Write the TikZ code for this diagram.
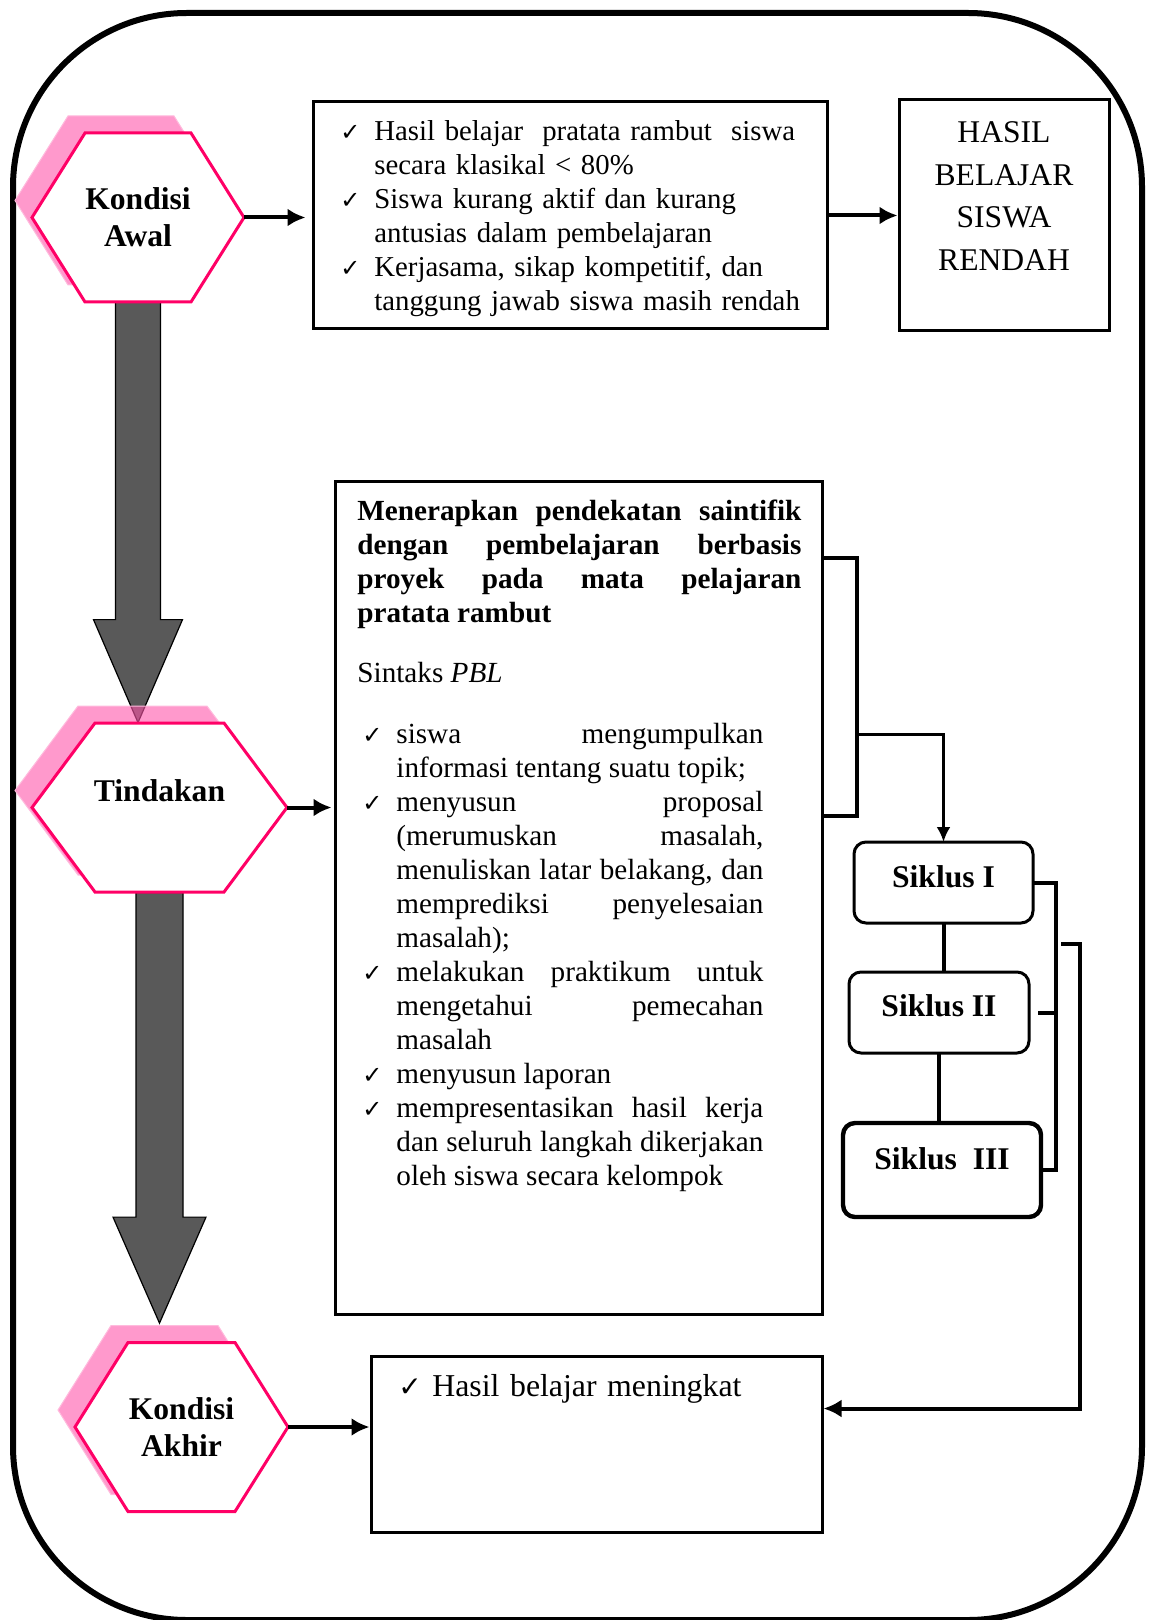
\documentclass[tikz,border=0pt]{standalone}
\usepackage{fontspec}
\setmainfont{Liberation Serif}
\newfontfamily\simbol{DejaVu Sans}
\usetikzlibrary{positioning}
\usetikzlibrary{calc}
\usetikzlibrary{arrows.meta}

\definecolor{pinkgaris}{HTML}{FF0066}
\definecolor{pinkbayang}{HTML}{FF55AA}
\definecolor{abugelap}{HTML}{595959}

\pgfdeclarelayer{background}
\pgfsetlayers{background,main}

\setlength{\parindent}{0pt}
\tolerance=10000
\hbadness=10000
\hyphenpenalty=10000

\newcommand{\cek}{\noindent\llap{\makebox[17pt][l]{{\simbol\fontsize{12}{12}\selectfont ✓}}}}
\newcommand{\cekbesar}{\noindent\llap{\makebox[17pt][l]{{\simbol\fontsize{14}{14}\selectfont ✓}}}}

% hexagon with pink shadow: name, centre, half width, slant, options, text
\newcommand{\hexa}[6]{%
  \path[hexbayang] ($(#2)+({-#3-17},-17)$) -- ++(#4,-84.5) -- ++({2*#3-2*#4},0) -- ++(#4,84.5) -- ++(-#4,84.5) -- ++({-2*#3+2*#4},0) -- cycle;
  \path[hexgaris] ($(#2)+(-#3,0)$) -- ++(#4,-84.5) -- ++({2*#3-2*#4},0) -- ++(#4,84.5) -- ++(-#4,84.5) -- ++({-2*#3+2*#4},0) -- cycle;
  \node[hexteks, minimum width={#3*1pt}, #5] (#1) at (#2) {#6};
}

% gray block arrow: from, tip, shaft half, head half, head length
\newcommand{\blok}[5]{%
  \draw[blokpanah] ($(#1)+(-#3,0)$) -- ($(#2)+(-#3,-#5)$) -- ($(#2)+(-#4,-#5)$) -- (#2) -- ($(#2)+(#4,-#5)$) -- ($(#2)+(#3,-#5)$) -- ($(#1)+(#3,0)$) -- cycle;
}

\begin{document}
\begin{tikzpicture}[x=0.5pt, y=-0.5pt,
    hexteks/.style={inner sep=0pt, minimum height=84.5pt, align=center, font=\bfseries\fontsize{15.8}{18.5}\selectfont},
    hexgaris/.style={draw=pinkgaris, line width=1.5pt, fill=white},
    hexbayang/.style={fill=pinkbayang, fill opacity=0.6, draw=pinkbayang!40, line width=0.5pt},
    kotak/.style={draw, line width=1.5pt, inner sep=0pt},
    teks/.style={inner sep=0pt, font=\fontsize{14.6}{17}\selectfont},
    siklus/.style={draw, line width=1.5pt, rounded corners=6pt, inner sep=0pt, outer sep=0pt, font=\bfseries\fontsize{15.8}{18}\selectfont},
    garis/.style={line width=2pt},
    panah/.style={line width=2pt, -{Latex[length=9pt,width=9pt]}},
    panahkecil/.style={line width=1.5pt, -{Latex[length=7.5pt,width=7pt]}},
    blokpanah/.style={fill=abugelap, draw=black, line width=0.6pt}]

    \useasboundingbox (0,0) rectangle (1152,1620);
    \draw[line width=3pt, rounded corners=87pt] (13,13) rectangle (1142,1620);

    % hexagons
    \hexa{awal}{138,217.5}{106}{53}{}{Kondisi\\Awal}
    \hexa{tindakan}{159.5,807.5}{127.5}{63}{text depth=17pt}{Tindakan}
    \hexa{akhir}{181.5,1427}{106.5}{53}{}{Kondisi\\Akhir}

    % boxes
    \node[kotak, minimum width=257pt, minimum height=113.5pt] (masalah) at (570,215.5) {};
    \node[kotak, minimum width=105pt, minimum height=115.5pt, right=34.5pt of masalah] (hasil) {};
    \node[kotak, minimum width=243.5pt, minimum height=416.5pt] (isi) at (578.5,897.5) {};
    \node[kotak, minimum width=225.5pt, minimum height=88pt] (akhirbox) at (596.5,1444) {};

    \node[teks, anchor=north west, text width=240pt, align=left, font=\fontsize{14.4}{17}\selectfont] (masalahteks) at (348,120) {\leftskip=13pt
        \cek Hasil belajar~ pratata rambut~ siswa\newline secara klasikal < 80\%\par
        \cek Siswa kurang aktif dan kurang\newline antusias dalam pembelajaran\par
        \cek Kerjasama, sikap kompetitif, dan\newline tanggung jawab siswa masih rendah\par};

    \node[teks, anchor=north, align=center, font=\fontsize{15.8}{21.2}\selectfont] (hasilteks) at (1004,121.6) {HASIL\\BELAJAR\\SISWA\\RENDAH};

    \node[teks, anchor=north west, text width=222pt, align=justify] (isiteks) at (357,500) {%
        {\bfseries Menerapkan pendekatan saintifik\linebreak dengan pembelajaran berbasis\linebreak proyek pada mata pelajaran\linebreak pratata rambut\par}
        \vspace{13pt}
        Sintaks \textit{PBL}\par
        \vspace{13.5pt}
        \leftskip=19.5pt \rightskip=19pt
        \cek siswa mengumpulkan\linebreak informasi tentang suatu topik;\par
        \cek menyusun proposal\linebreak (merumuskan masalah,\linebreak menuliskan latar belakang, dan\linebreak memprediksi penyelesaian\linebreak masalah);\par
        \cek melakukan praktikum untuk\linebreak mengetahui pemecahan\linebreak masalah\par
        \cek menyusun laporan\par
        \cek mempresentasikan hasil kerja\linebreak dan seluruh langkah dikerjakan\linebreak oleh siswa secara kelompok\par};

    \node[teks, anchor=north west, text width=200pt, align=left, font=\fontsize{15.9}{19}\selectfont] (akhirteks) at (403,1374) {\leftskip=14.5pt
        \cekbesar Hasil belajar meningkat\par};

    % siklus
    \node[siklus, minimum width=89.5pt, minimum height=40.5pt, text depth=5.5pt] (s1) at (943.5,882.5) {Siklus I};
    \node[siklus, minimum width=90pt, minimum height=40.5pt, text depth=6.5pt, below=24.5pt of s1, xshift=-2.25pt] (s2) {Siklus II};
    \node[siklus, line width=2.2pt, minimum width=99pt, minimum height=47pt, text depth=11pt, below=35pt of s2, xshift=1.5pt] (s3) {Siklus~ III};

    % arrows
    \draw[panah, shorten >=3pt] (awal.east) -- (awal.east -| masalah.west);
    \draw[panah] (masalah.east) -- (masalah.east -| hasil.west);
    \draw[panah, shorten >=1pt] (tindakan.east) -- (tindakan.east -| isi.west);
    \draw[panah] (akhir.east) -- (akhir.east -| akhirbox.west);

    \draw[garis] (s1.south) -- (s1.south |- s2.north);
    \draw[garis] (s2.south) -- (s2.south |- s3.north);

    \coordinate (ka) at ($(isi.north east)+(0,78)$);
    \coordinate (kb) at ($(isi.north east)+(0,336)$);
    \draw[garis] (ka) -- ++(33,0) coordinate (kc) |- (kb);
    \draw[panahkecil] ($(kc)+(0,177)$) -| (s1.north);

    \draw[garis] (s1.east) -- ++(23,0) coordinate (kd) |- (s3.east);
    \draw[garis] ($(s2.east)+(9,0)$) -- (s2.east -| kd);
    \draw[panah] ($(kd)+(5,61)$) -- ++(19,0) |- ($(akhirbox.north east)+(0,54)$);

    % gray block arrows
    \path (awal.south |- tindakan.north) coordinate (t1);
    \path (tindakan.south |- akhir.north) ++(0,-19) coordinate (t2);
    \begin{pgfonlayer}{background}
        \blok{awal.south}{t1}{22.5}{44.5}{103}
        \blok{tindakan.south}{t2}{23.5}{46.5}{106}
    \end{pgfonlayer}
\end{tikzpicture}
\end{document}
